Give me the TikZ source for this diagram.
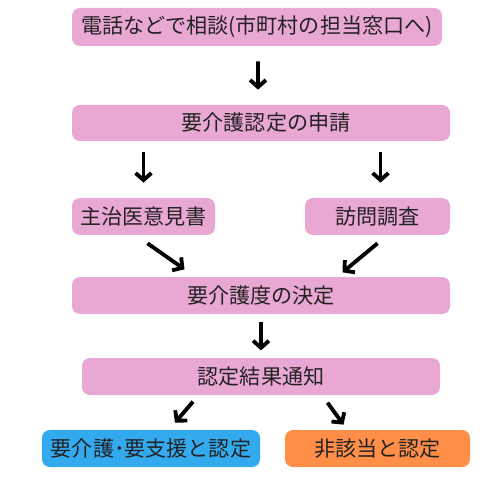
\documentclass[tikz,border=0pt]{standalone}
\usepackage{fontspec}
\setmainfont{Noto Sans CJK JP}
\usetikzlibrary{arrows.meta}

\definecolor{boxpink}{RGB}{233,168,211}
\definecolor{boxblue}{RGB}{52,170,238}
\definecolor{boxorange}{RGB}{255,143,72}
\definecolor{txtgray}{RGB}{34,34,34}

\begin{document}
\begin{tikzpicture}[
    box/.style={rounded corners=0.16cm, fill=boxpink, text=txtgray,
                minimum height=0.74cm, inner sep=0pt,
                font=\fontsize{12}{14}\selectfont},
    arr/.style={line width=2.2pt, black,
                -{Straight Barb[length=4pt,width=9pt]}}
  ]
    \useasboundingbox (0,0) rectangle (10,-10);

    % Boxes, top to bottom
    \node[box, minimum width=7.4cm, minimum height=0.76cm] (soudan) at (5.14,-0.54)
        {電話などで相談(市町村の担当窓口へ)};
    \node[box, minimum width=7.56cm, minimum height=0.72cm] (shinsei) at (5.22,-2.46)
        {\hspace{0.2cm}要介護認定の申請};
    \node[box, minimum width=2.86cm] (ikensho) at (2.87,-4.33) {主治医意見書};
    \node[box, minimum width=2.9cm] (houmon) at (7.55,-4.33) {訪問調査};
    \node[box, minimum width=7.56cm] (kettei) at (5.22,-5.91) {要介護度の決定};
    \node[box, minimum width=7.16cm] (tsuuchi) at (5.22,-7.53) {認定結果通知};
    \node[box, fill=boxblue, minimum width=4.36cm] (yokaigo) at (3.02,-8.97)
        {要介護･要支援と認定};
    \node[box, fill=boxorange, minimum width=3.7cm] (higaitou) at (7.55,-8.97)
        {非該当と認定};

    % Arrows between the boxes
    \draw[arr] ([xshift=0.02cm,yshift=-0.3cm]soudan.south)
        -- ([xshift=-0.06cm,yshift=0.3cm]shinsei.north);
    \draw[arr] ([yshift=0.92cm]ikensho.north) -- ([yshift=0.3cm]ikensho.north);
    \draw[arr] ([xshift=0.06cm,yshift=0.92cm]houmon.north)
        -- ([xshift=0.06cm,yshift=0.3cm]houmon.north);
    \draw[arr] ([xshift=0.08cm,yshift=-0.16cm]ikensho.south)
        -- ([xshift=0.82cm,yshift=-0.68cm]ikensho.south);
    \draw[arr] ([yshift=-0.16cm]houmon.south)
        -- ([xshift=-0.7cm,yshift=-0.74cm]houmon.south);
    \draw[arr] ([yshift=-0.16cm]kettei.south) -- ([yshift=-0.72cm]kettei.south);
    \draw[arr] ([xshift=0.84cm,yshift=0.56cm]yokaigo.north)
        -- ([xshift=0.48cm,yshift=0.14cm]yokaigo.north);
    \draw[arr] ([xshift=-1.0cm,yshift=0.54cm]higaitou.north)
        -- ([xshift=-0.68cm,yshift=0.1cm]higaitou.north);
\end{tikzpicture}
\end{document}
